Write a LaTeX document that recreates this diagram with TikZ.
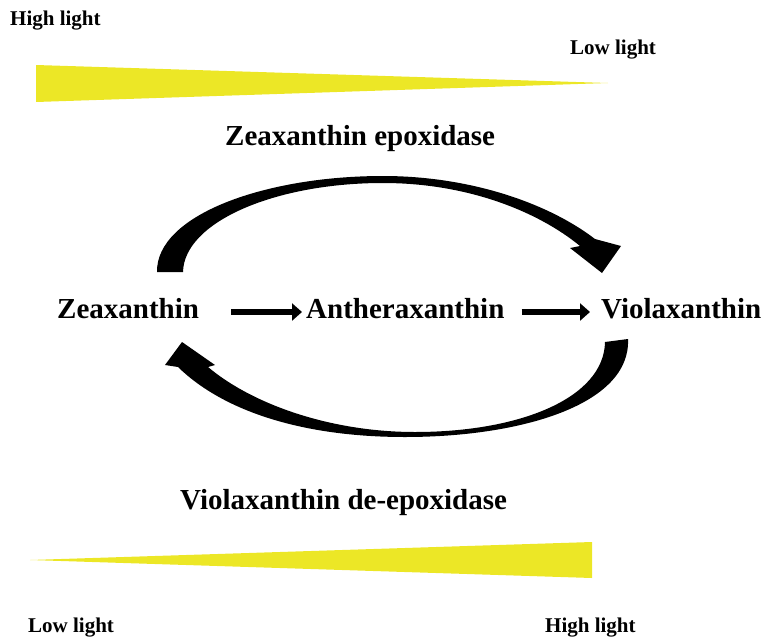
\documentclass[tikz,border=0pt]{standalone}
\usepackage{fontspec}
\setmainfont{Liberation Serif}
\usetikzlibrary{arrows.meta}
\definecolor{lightwedge}{RGB}{236,231,38}
\tikzset{
  pigment/.style={inner sep=0pt, font=\fontsize{29}{32}\selectfont\bfseries},
  enzyme/.style={inner sep=0pt, font=\fontsize{29}{32}\selectfont\bfseries},
  lightlabel/.style={inner sep=0pt, font=\fontsize{21}{23}\selectfont\bfseries},
  wedge/.style={fill=lightwedge},
  flow/.style={line width=6.5pt, -{Triangle[length=10pt,width=17pt]}},
  cycle arrow/.style={fill=black}
}
\begin{document}
\begin{tikzpicture}[x=1pt,y=-1pt]
\useasboundingbox (0,0) rectangle (768,640);

% light gradient, decreasing towards the right
\fill[wedge] (36,65) -- (608,83) -- (36,102) -- cycle;
\node[lightlabel, anchor=base west] (hiTop) at (10,25) {High light};
\node[lightlabel, anchor=base west] (loTop) at (570,54) {Low light};

% upper enzyme
\node[enzyme, anchor=base west] (zep) at (225,145) {Zeaxanthin epoxidase};

% pigments of the cycle
\node[pigment, anchor=base west] (zea) at (57,318) {Zeaxanthin};
\node[pigment, anchor=base west] (anth) at (306,318) {Antheraxanthin};
\node[pigment, anchor=base west] (viola) at (601,318) {Violaxanthin};

\draw[flow] ([xshift=32pt,yshift=6pt]zea.base east) -- ([xshift=-4pt,yshift=6pt]anth.base west);
\draw[flow] ([xshift=17pt,yshift=6pt]anth.base east) -- ([xshift=-11pt,yshift=6pt]viola.base west);

% epoxidation arc (top), tapering from the tail to the crest
\fill[cycle arrow]
  (157,272) .. controls (156,215) and (265,176) .. (383,176)
            .. controls (470,176) and (548,203) .. (595,239)
  -- (621,246) -- (602,273) -- (570,248) -- (580,246)
            .. controls (540,213) and (470,183) .. (383,183)
            .. controls (275,183) and (184,222) .. (183,272)
  -- cycle;

% de-epoxidation arc (bottom)
\fill[cycle arrow]
  (605,342) -- (628,339)
            .. controls (631,405) and (520,437) .. (405,437)
            .. controls (300,437) and (222,410) .. (178,367)
  -- (165,365) -- (182,342) -- (215,365) -- (208,367)
            .. controls (252,404) and (330,432) .. (415,432)
            .. controls (520,432) and (604,398) .. (605,342)
  -- cycle;

% lower enzyme
\node[enzyme, anchor=base west] (vde) at (180,509) {Violaxanthin de-epoxidase};

% light gradient, increasing towards the right
\fill[wedge] (30,560) -- (592,542) -- (592,578) -- cycle;
\node[lightlabel, anchor=base west] (loBot) at (28,632) {Low light};
\node[lightlabel, anchor=base west] (hiBot) at (545,632) {High light};
\end{tikzpicture}
\end{document}
